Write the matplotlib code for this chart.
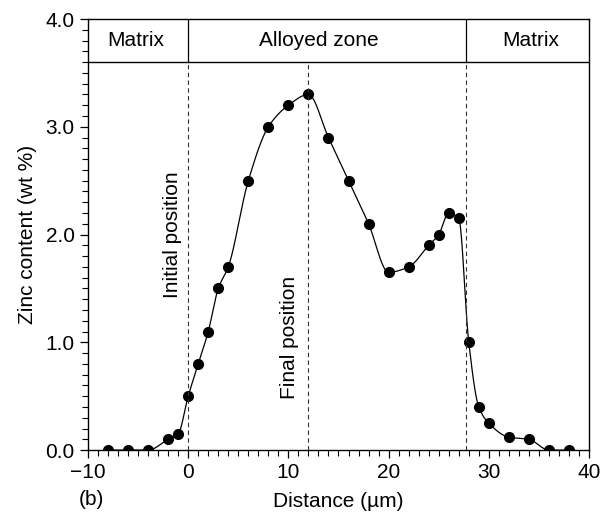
import numpy as np
import matplotlib
matplotlib.use("Agg")
import matplotlib.pyplot as plt
from matplotlib.ticker import MultipleLocator, FormatStrFormatter

plt.rcParams['font.family'] = ['Liberation Sans', 'DejaVu Sans']

# zinc profile across the alloyed zone
distance = [-8, -6, -4, -2, -1, 0, 1, 2, 3, 4, 6, 8, 10, 12, 14, 16, 18, 20,
            22, 24, 25, 26, 27, 28, 29, 30, 32, 34, 36, 38]
zinc = [0.0, 0.0, 0.0, 0.1, 0.15, 0.5, 0.8, 1.1, 1.5, 1.7, 2.5, 3.0, 3.2, 3.3,
        2.9, 2.5, 2.1, 1.65, 1.7, 1.9, 2.0, 2.2, 2.15, 1.0, 0.4, 0.25, 0.12,
        0.1, 0.0, 0.0]

initial_pos = 0
final_pos = 12
zone_end = 27.7
band_bottom = 3.6
zone_names = ["Matrix", "Alloyed zone", "Matrix"]
zone_centers = [-5.2, 13.0, 34.2]


def pchip(x, y, xs):
    # monotone cubic through the measured points
    x = np.asarray(x, float)
    y = np.asarray(y, float)
    h = np.diff(x)
    d = np.diff(y) / h
    m = np.zeros_like(y)
    for k in range(1, len(x) - 1):
        if d[k - 1] * d[k] > 0:
            w1 = 2 * h[k] + h[k - 1]
            w2 = h[k] + 2 * h[k - 1]
            m[k] = (w1 + w2) / (w1 / d[k - 1] + w2 / d[k])
    m[0] = d[0]
    m[-1] = d[-1]
    idx = np.clip(np.searchsorted(x, xs) - 1, 0, len(x) - 2)
    t = (xs - x[idx]) / h[idx]
    h00 = 2 * t**3 - 3 * t**2 + 1
    h10 = t**3 - 2 * t**2 + t
    h01 = -2 * t**3 + 3 * t**2
    h11 = t**3 - t**2
    return (h00 * y[idx] + h10 * h[idx] * m[idx] + h01 * y[idx + 1]
            + h11 * h[idx] * m[idx + 1])


fig = plt.figure(figsize=(6.11, 5.15), dpi=100)
ax = fig.add_axes([0.144, 0.126, 0.82, 0.837])

xs = np.linspace(distance[0], distance[-1], 800)
ax.plot(xs, pchip(distance, zinc, xs), color='black', lw=0.9)
ax.plot(distance, zinc, 'o', color='black', ms=7)

# position markers
for xv in (initial_pos, final_pos, zone_end):
    ax.plot([xv, xv], [0, band_bottom], color='#333333', lw=0.8,
            dashes=(4, 3))

# zone band along the top
ax.axhline(band_bottom, color='black', lw=1.0)
for xv in (initial_pos, zone_end):
    ax.plot([xv, xv], [band_bottom, 4.0], color='black', lw=0.9)
for name, xc in zip(zone_names, zone_centers):
    ax.text(xc, 3.8, name, ha='center', va='center', fontsize=15)

ax.text(-1.6, 2.0, "Initial position", rotation=90, ha='center',
        va='center', fontsize=15)
ax.text(10.1, 1.05, "Final position", rotation=90, ha='center',
        va='center', fontsize=15)

ax.set_xlim(-10, 40)
ax.set_ylim(0, 4.0)
ax.xaxis.set_major_locator(MultipleLocator(10))
ax.xaxis.set_minor_locator(MultipleLocator(1))
ax.yaxis.set_major_locator(MultipleLocator(1))
ax.yaxis.set_minor_locator(MultipleLocator(0.1))
ax.yaxis.set_major_formatter(FormatStrFormatter('%.1f'))
ax.tick_params(which='major', length=6, width=0.9, labelsize=15,
               direction='out')
ax.tick_params(which='minor', length=4, width=0.8, direction='out')
for s in ax.spines.values():
    s.set_linewidth(1.0)

ax.set_xlabel("Distance (\u00b5m)", fontsize=15, labelpad=7)
ax.set_ylabel("Zinc content (wt %)", fontsize=15, labelpad=6)
ax.text(-9.7, -0.46, "(b)", ha='center', va='center', fontsize=15)

fig.savefig("out.png", dpi=100)
